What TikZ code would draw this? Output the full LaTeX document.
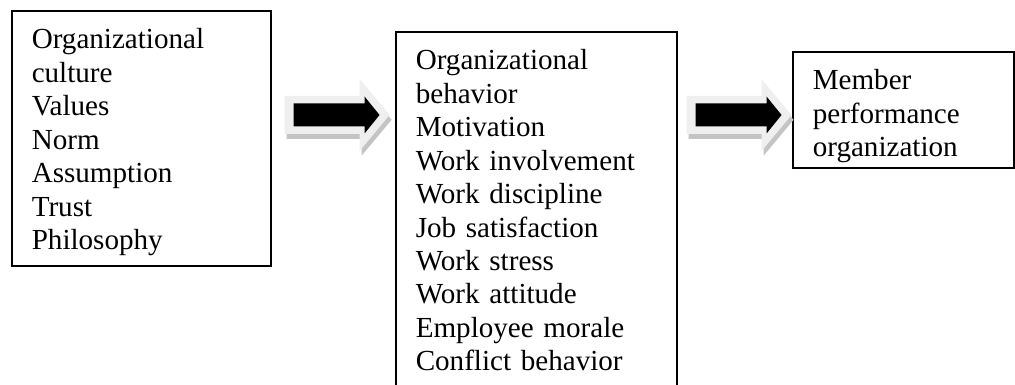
\documentclass[tikz,border=0pt]{standalone}
\usepackage{fontspec}
\setmainfont{Liberation Serif}
\definecolor{arrowlight}{HTML}{EFEFEF}
\definecolor{arrowshade}{HTML}{C4C4C4}
\tikzset{
  blockarrow/.pic={
    % shadow, light outline, black arrow
    \fill[arrowshade, shift={(0.05,-0.12)}] (0,-0.475) -- (1.875,-0.475) -- (1.875,-0.9) -- (2.625,0) -- (1.875,0.9) -- (1.875,0.475) -- (0,0.475) -- cycle;
    \fill[arrowlight] (0,-0.475) -- (1.875,-0.475) -- (1.875,-0.9) -- (2.625,0) -- (1.875,0.9) -- (1.875,0.475) -- (0,0.475) -- cycle;
    \fill[black] (0.225,-0.2875) -- (2.0,-0.2875) -- (2.0,-0.4625) -- (2.375,0) -- (2.0,0.4625) -- (2.0,0.2875) -- (0.225,0.2875) -- cycle;
  }
}
\begin{document}
\begin{tikzpicture}[
        box/.style={rectangle, draw, line width=1.1pt, align=left, anchor=north west,
          inner xsep=0.5cm, inner ysep=0pt, text height=0.95cm,
          font=\fontsize{20.7}{23.8}\selectfont}
      ]
        \useasboundingbox (0,0) rectangle (25.375,-9.625);

        % Culture
        \node[box, text width=5.475cm, text depth=5.425cm] (culture) at (0.275,-0.25)
          {Organizational\\culture\\Values\\Norm\\Assumption\\Trust\\Philosophy};

        % Behavior
        \node[box, text width=6.025cm, text depth=8.4cm] (behavior) at (9.875,-0.775)
          {Organizational\\behavior\\Motivation\\Work involvement\\Work discipline\\Job satisfaction\\Work stress\\Work attitude\\Employee morale\\Conflict behavior};

        % Performance
        \node[box, text width=4.525cm, text depth=1.95cm] (perf) at (19.8,-1.275)
          {Member\\performance\\organization};

        % Arrows
        \pic at ([xshift=0.325cm, yshift=-2.625cm]culture.north east) {blockarrow};
        \pic at ([xshift=0.225cm, yshift=-2.1cm]behavior.north east) {blockarrow};
      \end{tikzpicture}
\end{document}
